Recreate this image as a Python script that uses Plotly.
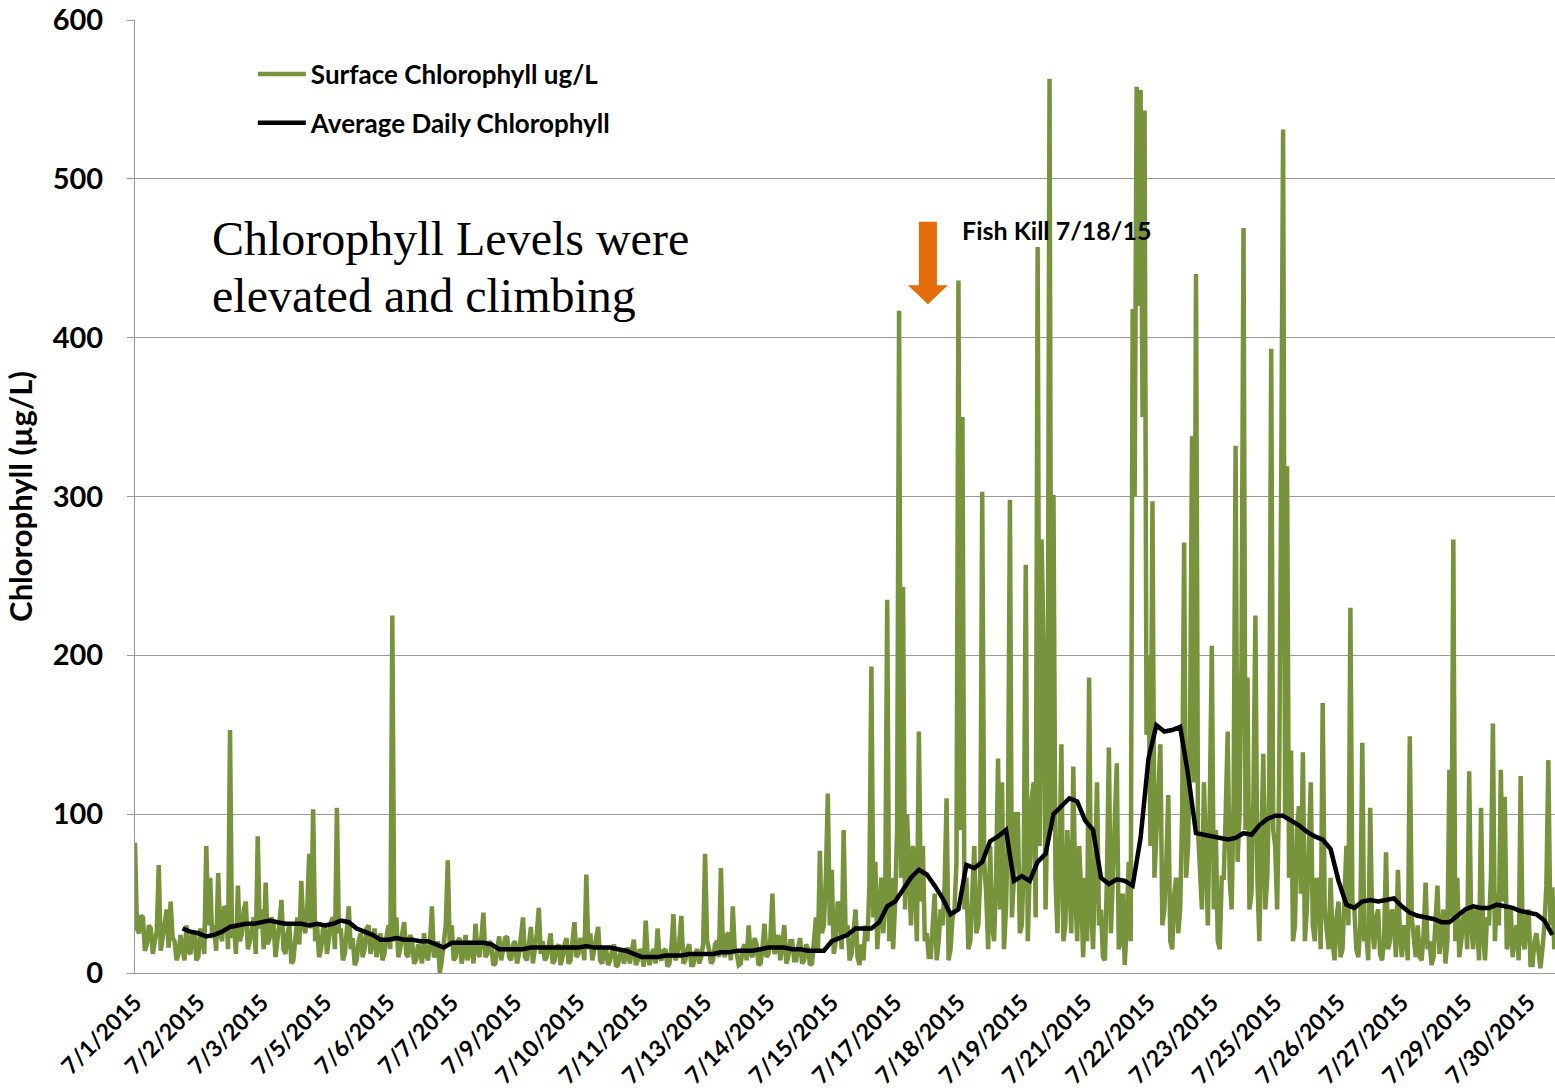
import plotly.graph_objects as go

# Surface chlorophyll (ug/L), hourly readings, one row per day starting 7/1/2015
surface_chl = [
    82, 28, 25, 36, 35, 14, 18, 30, 28, 12, 20, 26, 68, 14, 22, 30, 40, 16, 45, 22, 20, 8, 12, 24,                # 7/1
    15, 8, 30, 14, 12, 26, 25, 8, 10, 28, 22, 12, 80, 30, 60, 22, 30, 14, 63, 25, 20, 42, 40, 15,                 # 7/2
    153, 22, 30, 12, 55, 20, 25, 40, 45, 15, 20, 30, 35, 12, 86, 28, 40, 15, 57, 18, 22, 35, 30, 10,              # 7/3
    20, 32, 46, 15, 12, 25, 30, 6, 8, 22, 35, 18, 58, 30, 25, 40, 75, 28, 103, 20, 30, 10, 15, 28,                # 7/4
    30, 12, 20, 32, 35, 15, 104, 25, 28, 8, 12, 24, 42, 15, 22, 5, 8, 20, 25, 10, 15, 28, 30, 12,                 # 7/5
    20, 28, 10, 18, 25, 8, 12, 22, 30, 15, 225, 20, 35, 10, 15, 25, 32, 12, 10, 24, 20, 6, 8, 18,                 # 7/6
    15, 6, 25, 12, 8, 18, 42, 10, 12, 20, 0, 8, 20, 30, 71, 18, 30, 8, 10, 20, 22, 6, 12, 24,                     # 7/7
    8, 16, 20, 6, 31, 14, 10, 22, 38, 10, 12, 20, 18, 5, 6, 15, 23, 8, 15, 22, 23, 10, 8, 18,                     # 7/8
    20, 6, 12, 22, 35, 10, 8, 18, 29, 6, 15, 25, 41, 12, 20, 8, 10, 18, 25, 6, 8, 16, 18, 5,                      # 7/9
    10, 18, 22, 6, 8, 20, 32, 10, 12, 22, 18, 8, 62, 15, 25, 8, 15, 20, 29, 8, 6, 14, 15, 5,                      # 7/10
    8, 14, 18, 4, 5, 12, 15, 6, 10, 16, 6, 12, 21, 5, 8, 15, 12, 4, 33, 10, 5, 12, 15, 6,                         # 7/11
    28, 10, 8, 14, 15, 4, 6, 16, 37, 8, 12, 20, 36, 6, 8, 15, 18, 5, 5, 12, 15, 6, 10, 18,                        # 7/12
    75, 20, 15, 6, 8, 18, 20, 10, 66, 15, 10, 24, 25, 8, 42, 14, 12, 5, 6, 15, 18, 8, 30, 12,                     # 7/13
    10, 22, 18, 5, 6, 16, 31, 10, 12, 22, 50, 12, 15, 24, 8, 18, 30, 6, 10, 20, 20, 8, 8, 16,                     # 7/14
    22, 6, 8, 18, 15, 5, 6, 20, 35, 15, 77, 25, 30, 60, 113, 30, 65, 12, 20, 45, 40, 15, 90, 25,                  # 7/15
    30, 8, 12, 25, 40, 10, 5, 18, 8, 30, 20, 55, 193, 35, 70, 15, 40, 60, 25, 45, 235, 20, 60, 15,                # 7/16
    45, 90, 417, 60, 243, 40, 100, 70, 30, 80, 60, 20, 152, 45, 80, 20, 25, 10, 10, 30, 50, 8, 20, 40,            # 7/17
    30, 55, 110, 8, 15, 35, 40, 70, 436, 90, 350, 40, 60, 15, 20, 50, 80, 25, 30, 60, 303, 70, 50, 15,            # 7/18
    80, 30, 20, 60, 135, 40, 120, 15, 40, 90, 298, 35, 60, 100, 100, 25, 30, 70, 257, 20, 70, 110, 120, 35,       # 7/19
    457, 80, 273, 205, 40, 110, 563, 90, 301, 60, 25, 70, 144, 20, 30, 90, 60, 25, 130, 50, 20, 80, 50, 10,       # 7/20
    60, 20, 186, 40, 15, 70, 120, 30, 40, 10, 8, 60, 142, 25, 60, 100, 132, 15, 20, 50, 5, 30, 70, 20,            # 7/21
    418, 300, 558, 420, 556, 350, 543, 150, 200, 80, 297, 60, 90, 130, 144, 30, 40, 70, 112, 20, 15, 50, 60, 25,  # 7/22
    40, 100, 271, 60, 80, 150, 338, 120, 440, 90, 70, 40, 120, 60, 30, 110, 206, 40, 90, 20, 15, 60, 60, 100,     # 7/23
    152, 60, 40, 110, 332, 70, 100, 200, 469, 90, 186, 40, 50, 110, 225, 60, 20, 80, 138, 40, 60, 120, 393, 90,   # 7/24
    80, 40, 120, 300, 531, 100, 319, 60, 140, 20, 30, 90, 105, 50, 139, 20, 40, 80, 120, 30, 20, 60, 50, 15,      # 7/25
    170, 40, 30, 15, 60, 20, 8, 35, 45, 10, 15, 50, 80, 30, 230, 45, 40, 15, 10, 30, 145, 20, 25, 8,              # 7/26
    104, 30, 15, 35, 40, 12, 8, 20, 76, 15, 20, 40, 35, 10, 65, 25, 10, 30, 25, 8, 149, 35, 20, 10,               # 7/27
    30, 10, 8, 25, 57, 15, 20, 5, 10, 30, 55, 12, 25, 40, 6, 20, 128, 35, 273, 20, 60, 10, 20, 35,                # 7/28
    40, 15, 127, 30, 15, 40, 30, 8, 104, 25, 8, 35, 30, 60, 157, 20, 50, 30, 128, 45, 111, 15, 20, 40,            # 7/29
    10, 25, 30, 8, 124, 20, 15, 35, 40, 5, 5, 20, 25, 10, 3, 15, 30, 55, 134, 30, 54, 15, 20, 45,                 # 7/30
]

# Running 24-hour average, one value every 4 hours starting one day in
daily_avg = [
    28, 26, 25, 23, 24, 26,
    29, 30, 31, 31, 32, 33,
    32, 31, 31, 31, 30, 31,
    30, 31, 33, 32, 28, 26,
    24, 21, 21, 22, 21, 21,
    20, 20, 18, 16, 19, 19,
    19, 19, 19, 18, 15, 15,
    15, 15, 16, 16, 16, 16,
    16, 16, 16, 17, 16, 16,
    16, 15, 14, 12, 10, 10,
    10, 11, 11, 11, 12, 12,
    12, 12, 13, 13, 14, 14,
    14, 15, 16, 16, 16, 15,
    15, 14, 14, 14, 20, 22,
    24, 28, 28, 28, 32, 42,
    45, 52, 60, 65, 62, 55,
    47, 37, 40, 68, 66, 70,
    83, 86, 90, 58, 61, 58,
    70, 75, 100, 105, 110, 108,
    96, 90, 60, 56, 59, 58,
    55, 85, 135, 156, 152, 153,
    155, 125, 88, 87, 86, 85,
    84, 85, 88, 87, 93, 97,
    99, 99, 96, 93, 89, 86,
    84, 78, 58, 43, 41, 45,
    46, 45, 46, 47, 42, 38,
    36, 35, 34, 32, 32, 36,
    40, 42, 41, 41, 43, 42,
    41, 39, 38, 37, 33, 24,
]

tick_labels = [
    "7/1/2015", "7/2/2015", "7/3/2015", "7/5/2015", "7/6/2015", "7/7/2015",
    "7/9/2015", "7/10/2015", "7/11/2015", "7/13/2015", "7/14/2015", "7/15/2015",
    "7/17/2015", "7/18/2015", "7/19/2015", "7/21/2015", "7/22/2015", "7/23/2015",
    "7/25/2015", "7/26/2015", "7/27/2015", "7/29/2015", "7/30/2015",
]

# time axis in days since 7/1/2015 00:00
surface_x = [i / 24 for i in range(len(surface_chl))]
avg_x = [1 + k / 6 for k in range(len(daily_avg))]
# category labels fall every 128 quarter-hour readings (4/3 day)
tick_pos = [k * 4 / 3 for k in range(len(tick_labels))]

GREEN = "#77933C"
ORANGE = "#E46C0A"
GRID = "#9A9A9A"
LABEL_FONT = "Lato"

fig = go.Figure()
fig.add_trace(go.Scatter(
    x=surface_x, y=surface_chl, mode="lines",
    name="Surface Chlorophyll ug/L", legendgroup="a",
    line=dict(color=GREEN, width=4.5),
))
fig.add_trace(go.Scatter(
    x=avg_x, y=daily_avg, mode="lines",
    name="Average Daily Chlorophyll", legendgroup="b",
    line=dict(color="black", width=4.5),
))

# Fish kill marker arrow
ax, shaft_half, head_half = 16.69, 0.19, 0.42
y_top, y_neck, y_tip = 473, 433, 421
arrow_path = (
    f"M {ax - shaft_half} {y_top} L {ax + shaft_half} {y_top} "
    f"L {ax + shaft_half} {y_neck} L {ax + head_half} {y_neck} "
    f"L {ax} {y_tip} L {ax - head_half} {y_neck} "
    f"L {ax - shaft_half} {y_neck} Z"
)
fig.add_shape(type="path", path=arrow_path, xref="x", yref="y",
              fillcolor=ORANGE, line=dict(width=0), layer="above")

fig.add_annotation(x=17.37, y=468, xref="x", yref="y", text="<b>Fish Kill 7/18/15</b>",
                   showarrow=False, xanchor="left", yanchor="middle",
                   font=dict(family=LABEL_FONT, size=25, color="black"))

fig.add_annotation(x=0.0528, y=0.771, xref="paper", yref="paper",
                   text="Chlorophyll Levels were", showarrow=False,
                   xanchor="left", yanchor="middle",
                   font=dict(family="Liberation Serif", size=48, color="black"))
fig.add_annotation(x=0.0528, y=0.711, xref="paper", yref="paper",
                   text="elevated and climbing", showarrow=False,
                   xanchor="left", yanchor="middle",
                   font=dict(family="Liberation Serif", size=48, color="black"))

fig.update_layout(
    width=1555, height=1092,
    margin=dict(l=135, r=0, t=20, b=119, autoexpand=False),
    plot_bgcolor="white", paper_bgcolor="white",
    showlegend=True,
    legend=dict(
        x=0.083, y=0.968, xanchor="left", yanchor="top",
        bgcolor="rgba(0,0,0,0)", itemwidth=48, tracegroupgap=12,
        font=dict(family=LABEL_FONT, size=26, color="black", weight="bold"),
    ),
    xaxis=dict(
        range=[0, 29.89], tickmode="array", tickvals=tick_pos, ticktext=tick_labels,
        tickangle=-45, showgrid=False, zeroline=False, automargin=False,
        showline=True, linecolor=GRID, linewidth=1, ticks="", ticklabelstandoff=6,
        tickfont=dict(family=LABEL_FONT, size=23, color="black", weight="bold"),
    ),
    yaxis=dict(
        range=[0, 600], dtick=100, showgrid=True, gridcolor=GRID, gridwidth=1,
        zeroline=False, showline=True, linecolor=GRID, linewidth=1, automargin=False,
        ticks="outside", ticklen=7, tickcolor=GRID, ticklabelstandoff=18,
        tickfont=dict(family=LABEL_FONT, size=29, color="black", weight="bold"),
        title=dict(text="Chlorophyll (µg/L)", standoff=10,
                   font=dict(family=LABEL_FONT, size=31, color="black", weight="bold")),
    ),
)

fig.write_html("out.html")
